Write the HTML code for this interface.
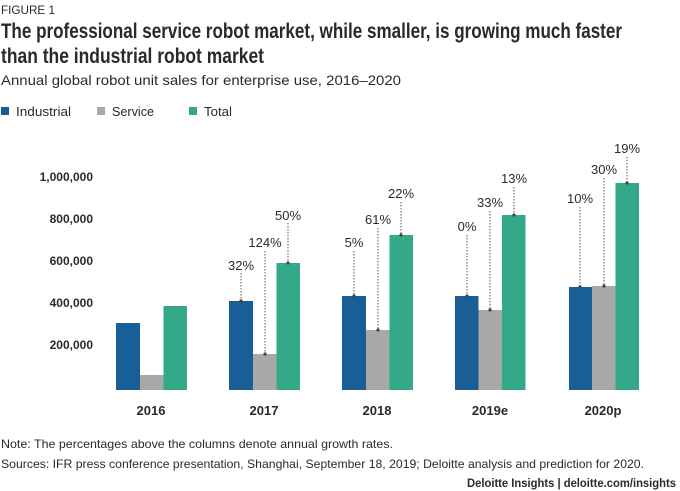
<!DOCTYPE html>
<html><head><meta charset="utf-8"><style>
html,body{margin:0;padding:0;background:#fff;}
svg{display:block;}
text{font-family:"Liberation Sans",sans-serif;fill:#2a2a2a;}
.c{font-family:"Liberation Sans Narrow","Liberation Sans",sans-serif;}
</style></head><body>
<svg width="680" height="491" viewBox="0 0 680 491" xmlns="http://www.w3.org/2000/svg">
<text x="1" y="14" font-size="12" textLength="54" lengthAdjust="spacingAndGlyphs" fill="#555">FIGURE 1</text>
<text class="c" x="1" y="38" font-size="21" font-weight="bold" textLength="621" lengthAdjust="spacingAndGlyphs" fill="#111">The professional service robot market, while smaller, is growing much faster</text>
<text class="c" x="1" y="63" font-size="21" font-weight="bold" textLength="263" lengthAdjust="spacingAndGlyphs" fill="#111">than the industrial robot market</text>
<text x="1" y="85" font-size="14" textLength="400" lengthAdjust="spacingAndGlyphs" fill="#333">Annual global robot unit sales for enterprise use, 2016–2020</text>
<rect x="1" y="107" width="8" height="8" fill="#1a5e96"/>
<text x="16" y="116" font-size="13" textLength="55" lengthAdjust="spacingAndGlyphs" fill="#444">Industrial</text>
<rect x="97" y="107" width="8" height="8" fill="#a8a8a6"/>
<text x="112" y="116" font-size="13" textLength="42" lengthAdjust="spacingAndGlyphs" fill="#444">Service</text>
<rect x="189" y="107" width="8" height="8" fill="#33a98a"/>
<text x="204" y="116" font-size="13" textLength="28" lengthAdjust="spacingAndGlyphs" fill="#444">Total</text>
<g class="c" font-size="12" font-weight="bold" text-anchor="end" fill="#333">
<text x="93" y="181">1,000,000</text>
<text x="93" y="223">800,000</text>
<text x="93" y="265">600,000</text>
<text x="93" y="307">400,000</text>
<text x="93" y="349">200,000</text>
</g>
<g>
<rect x="116" y="323" width="24" height="67" fill="#1a5e96"/><rect x="140" y="375" width="23.5" height="15" fill="#a8a8a6"/><rect x="163.5" y="306" width="23.5" height="84" fill="#33a98a"/>
<rect x="229" y="301" width="24" height="89" fill="#1a5e96"/><rect x="253" y="354" width="23.5" height="36" fill="#a8a8a6"/><rect x="276.5" y="263" width="23.5" height="127" fill="#33a98a"/>
<rect x="342" y="296" width="24" height="94" fill="#1a5e96"/><rect x="366" y="330" width="23.5" height="60" fill="#a8a8a6"/><rect x="389.5" y="235" width="23.5" height="155" fill="#33a98a"/>
<rect x="455" y="296" width="23.5" height="94" fill="#1a5e96"/><rect x="478.5" y="310" width="23.5" height="80" fill="#a8a8a6"/><rect x="502" y="215" width="23.5" height="175" fill="#33a98a"/>
<rect x="569" y="287" width="23" height="103" fill="#1a5e96"/><rect x="592" y="286" width="23.5" height="104" fill="#a8a8a6"/><rect x="615.5" y="183" width="23.5" height="207" fill="#33a98a"/>
</g>
<g stroke="#555" stroke-width="1" stroke-dasharray="1.5,1.5">
<line x1="241" y1="273" x2="241" y2="301"/><line x1="265" y1="251" x2="265" y2="354"/><line x1="288" y1="223" x2="288" y2="263"/>
<line x1="354" y1="251" x2="354" y2="296"/><line x1="378" y1="228" x2="378" y2="330"/><line x1="401" y1="202" x2="401" y2="235"/>
<line x1="467" y1="235" x2="467" y2="296"/><line x1="490" y1="211" x2="490" y2="310"/><line x1="514" y1="187" x2="514" y2="215"/>
<line x1="580" y1="207" x2="580" y2="287"/><line x1="604" y1="178" x2="604" y2="286"/><line x1="627" y1="157" x2="627" y2="183"/>
</g>
<g fill="#444">
<circle cx="241" cy="301" r="1.6"/><circle cx="265" cy="354" r="1.6"/><circle cx="288" cy="263" r="1.6"/>
<circle cx="354" cy="296" r="1.6"/><circle cx="378" cy="330" r="1.6"/><circle cx="401" cy="235" r="1.6"/>
<circle cx="467" cy="296" r="1.6"/><circle cx="490" cy="310" r="1.6"/><circle cx="514" cy="215" r="1.6"/>
<circle cx="580" cy="287" r="1.6"/><circle cx="604" cy="286" r="1.6"/><circle cx="627" cy="183" r="1.6"/>
</g>
<g font-size="13" text-anchor="middle" fill="#333">
<text x="241" y="270">32%</text><text x="265" y="247">124%</text><text x="288" y="220">50%</text>
<text x="354" y="247">5%</text><text x="378" y="224">61%</text><text x="401" y="198">22%</text>
<text x="467" y="231">0%</text><text x="490" y="207">33%</text><text x="514" y="183">13%</text>
<text x="580" y="203">10%</text><text x="604" y="174">30%</text><text x="627" y="153">19%</text>
</g>
<g class="c" font-size="13" font-weight="bold" text-anchor="middle" fill="#333">
<text x="151" y="415">2016</text><text x="264" y="415">2017</text><text x="377" y="415">2018</text><text x="490" y="415">2019e</text><text x="603" y="415">2020p</text>
</g>
<text x="1" y="448" font-size="12" textLength="392" lengthAdjust="spacingAndGlyphs" fill="#444">Note: The percentages above the columns denote annual growth rates.</text>
<text x="1" y="468" font-size="12" textLength="643" lengthAdjust="spacingAndGlyphs" fill="#444">Sources: IFR press conference presentation, Shanghai, September 18, 2019; Deloitte analysis and prediction for 2020.</text>
<text x="467" y="487" font-size="12" textLength="209" lengthAdjust="spacingAndGlyphs" fill="#333" font-weight="bold">Deloitte Insights | deloitte.com/insights</text>
</svg>
</body></html>
